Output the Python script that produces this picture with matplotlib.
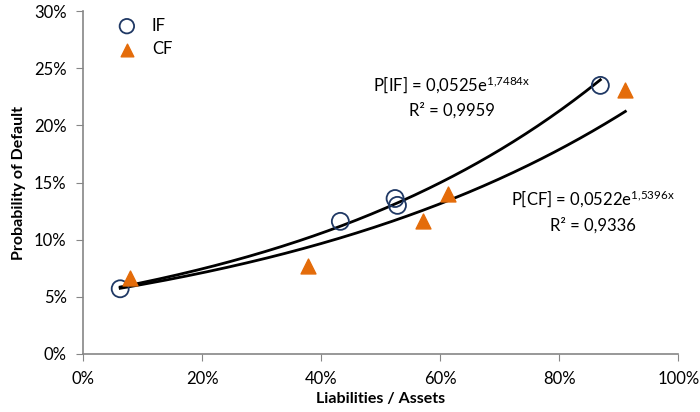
import matplotlib.pyplot as plt
import numpy as np

plt.rcParams['font.family'] = ['Lato', 'DejaVu Sans']
plt.rcParams['mathtext.fontset'] = 'custom'
plt.rcParams['mathtext.rm'] = 'Lato'
plt.rcParams['mathtext.it'] = 'Lato'

# IF and CF observations (Liabilities / Assets, Probability of Default)
if_x = [0.062, 0.432, 0.524, 0.528, 0.869]
if_y = [0.057, 0.116, 0.136, 0.130, 0.235]
cf_x = [0.079, 0.378, 0.571, 0.613, 0.911]
cf_y = [0.066, 0.077, 0.116, 0.140, 0.231]

# exponential trendlines as given on the chart
if_a, if_b, if_r2 = 0.0525, 1.7484, 0.9959
cf_a, cf_b, cf_r2 = 0.0522, 1.5396, 0.9336

x_ticks = [0, 0.2, 0.4, 0.6, 0.8, 1.0]
y_ticks = [0, 0.05, 0.10, 0.15, 0.20, 0.25, 0.30]

fig = plt.figure(figsize=(7, 4.12), dpi=100)
ax = fig.add_axes([0.119, 0.141, 0.850, 0.832])

# trendlines
xs = np.linspace(min(if_x), max(if_x), 200)
ax.plot(xs, if_a * np.exp(if_b * xs), color='black', lw=2, zorder=2)
xs = np.linspace(min(if_x), max(cf_x), 200)
ax.plot(xs, cf_a * np.exp(cf_b * xs), color='black', lw=2, zorder=2)

ax.scatter(if_x, if_y, s=150, facecolors='none', edgecolors='#1F3864',
           linewidths=1.3, label='IF', zorder=3)
ax.scatter(cf_x, cf_y, s=115, marker='^', color='#E46C0A', label='CF', zorder=3)


def fmt(v):
    return f'{v}'.replace('.', ',')


ax.text(0.619, 0.2353, 'P[IF] = ' + fmt(if_a) + r'e$^{\mathrm{' + fmt(if_b).replace(',', '{,}') + r'x}}$',
        fontsize=12, ha='center', va='center')
ax.text(0.619, 0.2134, 'R² = ' + fmt(if_r2), fontsize=12, ha='center', va='center')
ax.text(0.857, 0.1356, 'P[CF] = ' + fmt(cf_a) + r'e$^{\mathrm{' + fmt(cf_b).replace(',', '{,}') + r'x}}$',
        fontsize=12, ha='center', va='center')
ax.text(0.857, 0.112, 'R² = ' + fmt(cf_r2), fontsize=12, ha='center', va='center')

ax.set_xlim(0, 1.0)
ax.set_ylim(0, 0.30)
ax.set_xticks(x_ticks)
ax.set_yticks(y_ticks)
ax.set_xticklabels([f'{t:.0%}' for t in x_ticks], fontsize=12)
ax.set_yticklabels([f'{t:.0%}' for t in y_ticks], fontsize=12)
ax.tick_params(direction='out', length=5, color='#868686', pad=7)

for side in ['top', 'right']:
    ax.spines[side].set_visible(False)
for side in ['left', 'bottom']:
    ax.spines[side].set_color('#868686')
    ax.spines[side].set_linewidth(1.2)

ax.set_xlabel('Liabilities / Assets', fontsize=11.5, fontweight='bold', labelpad=4)
ax.set_ylabel('Probability of Default', fontsize=11.5, fontweight='bold', labelpad=6)

ax.legend(loc='upper left', bbox_to_anchor=(0.02, 1.025), frameon=False,
          fontsize=12, handletextpad=0.5, labelspacing=0.45, markerscale=0.85)

fig.savefig('out.png', dpi=100)
